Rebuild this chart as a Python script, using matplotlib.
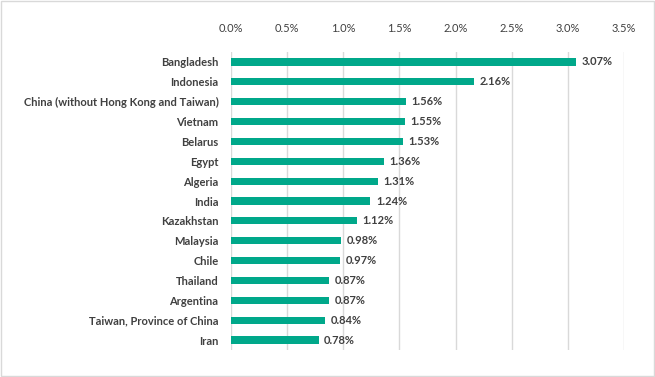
import matplotlib.pyplot as plt
from matplotlib.patches import Rectangle
from matplotlib.ticker import FuncFormatter

countries = ["Bangladesh", "Indonesia", "China (without Hong Kong and Taiwan)", "Vietnam",
             "Belarus", "Egypt", "Algeria", "India", "Kazakhstan", "Malaysia", "Chile",
             "Thailand", "Argentina", "Taiwan, Province of China", "Iran"]
values = [3.07, 2.16, 1.56, 1.55, 1.53, 1.36, 1.31, 1.24, 1.12, 0.98, 0.97, 0.87, 0.87, 0.84, 0.78]
xticks = [0.0, 0.5, 1.0, 1.5, 2.0, 2.5, 3.0, 3.5]

plt.rcParams['font.family'] = ['Lato', 'DejaVu Sans']
txt = '#404040'

fig = plt.figure(figsize=(6.55, 3.77), dpi=100)
ax = fig.add_axes([0.3527, 0.0716, 0.6, 0.7904])

y = list(range(len(countries)))
ax.barh(y, values, height=0.36, color='#00A88A', zorder=3)
for yi, v in zip(y, values):
    ax.text(v + 0.05, yi, f"{v:.2f}%", va='center', ha='left', fontsize=8,
            color=txt, fontweight='bold')

ax.set_ylim(len(countries) - 0.5, -0.5)
ax.set_yticks(y)
ax.set_yticklabels(countries, fontsize=8, color=txt, fontweight='bold')
ax.set_xlim(0, 3.5)
ax.set_xticks(xticks)
ax.xaxis.set_major_formatter(FuncFormatter(lambda v, p: f"{v:.1f}%"))
ax.xaxis.tick_top()
ax.tick_params(axis='x', length=0, pad=13, labelsize=8, labelcolor=txt)
ax.tick_params(axis='y', length=0, pad=9)
ax.grid(axis='x', color='#D9D9D9', linewidth=1, zorder=0)
for s in ax.spines.values():
    s.set_visible(False)

fig.patches.append(Rectangle((0.001, 0.002), 0.997, 0.995, transform=fig.transFigure,
                             fill=False, edgecolor='#D9D9D9', linewidth=1))

fig.savefig('out.png', dpi=100)
